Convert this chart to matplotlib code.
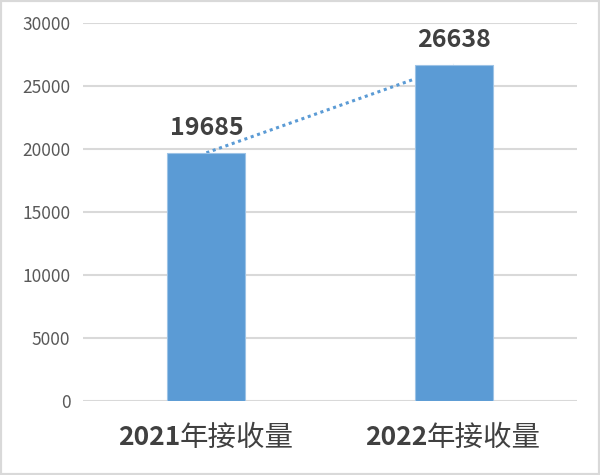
import matplotlib
matplotlib.use("Agg")
import matplotlib.pyplot as plt
from matplotlib.patches import Rectangle

plt.rcParams['font.family'] = ['Noto Sans CJK SC', 'DejaVu Sans']

years = ["2021", "2022"]
suffix = "年接收量"
values = [19685, 26638]
y_ticks = [0, 5000, 10000, 15000, 20000, 25000, 30000]

BAR_COLOR = "#5b9bd5"

fig = plt.figure(figsize=(6, 4.75), dpi=100)
ax = fig.add_axes([0.138, 0.156, 0.824, 0.796])

x = list(range(len(values)))
ax.bar(x, values, width=0.316, color=BAR_COLOR, edgecolor="#9dc3e6", linewidth=0.8, zorder=3)

# linear trend line (two points -> straight line between bar centres)
ax.plot(x, values, linestyle=(0, (1, 1.2)), color=BAR_COLOR, linewidth=2.2, zorder=2)

for xi, v in zip(x, values):
    ax.annotate(str(v), xy=(xi, v), xytext=(0, 13), textcoords="offset pixels",
                ha="center", va="bottom", fontsize=18, fontweight="bold", color="#404040")

ax.set_xlim(-0.5, 1.5)
ax.set_ylim(0, 30000)
ax.set_yticks(y_ticks)
ax.set_yticklabels([str(t) for t in y_ticks], fontsize=12.5, color="#595959")
ax.tick_params(axis="y", length=0, pad=9)
ax.set_xticks(x)
ax.set_xticklabels([""] * len(x))
ax.tick_params(axis="x", length=0)

# category labels: bold digits + regular chinese
for xi, yr in zip(x, years):
    ax.annotate(yr, xy=(xi, 0), xycoords=("data", "axes fraction"), xytext=(-26, -37),
                textcoords="offset pixels", ha="right", va="center",
                fontsize=19, fontweight="bold", color="#404040")
    ax.annotate(suffix, xy=(xi, 0), xycoords=("data", "axes fraction"), xytext=(-27, -37),
                textcoords="offset pixels", ha="left", va="center",
                fontsize=20.5, color="#404040")

ax.grid(axis="y", color="#d9d9d9", linewidth=1.5, zorder=0)
ax.set_axisbelow(True)
for s in ax.spines.values():
    s.set_visible(False)

fig.patches.append(Rectangle((0, 0), 1, 1, transform=fig.transFigure, fill=False,
                             edgecolor="#d9d9d9", linewidth=3))

fig.savefig("out.png", dpi=100)
